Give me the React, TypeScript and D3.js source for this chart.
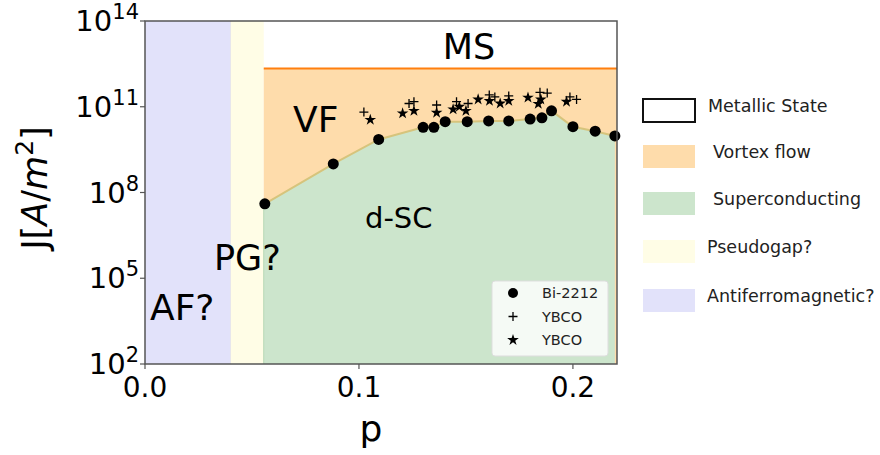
import React from 'react'
import * as d3 from 'd3'

// doping p and current density J [A/m^2]
const bi2212P = [0.056, 0.088, 0.1092, 0.130, 0.135, 0.1403, 0.1506, 0.1606, 0.170, 0.180, 0.1855, 0.190, 0.200, 0.2104, 0.2196]
const bi2212J = [4.0e7, 1.0e9, 7.2e9, 1.9e10, 1.9e10, 3.0e10, 3.0e10, 3.2e10, 3.2e10, 3.7e10, 4.1e10, 7.2e10, 2.0e10, 1.4e10, 9.5e9]

const ybcoPlusP = [0.1023, 0.1234, 0.1257, 0.1363, 0.1456, 0.151, 0.1609, 0.1635, 0.170, 0.1846, 0.188, 0.1986, 0.2017]
const ybcoPlusJ = [6.5e10, 1.3e11, 1.5e11, 1.15e11, 1.5e11, 1.3e11, 2.6e11, 2.2e11, 2.4e11, 3.2e11, 3.0e11, 2.2e11, 1.8e11]

const ybcoStarP = [0.1053, 0.1204, 0.1257, 0.1363, 0.144, 0.1469, 0.150, 0.1557, 0.161, 0.166, 0.170, 0.179, 0.1838, 0.185, 0.197]
const ybcoStarJ = [3.5e10, 5.9e10, 7.2e10, 6.2e10, 8.1e10, 1.0e11, 7.2e10, 1.8e11, 1.6e11, 1.3e11, 1.6e11, 2.1e11, 1.26e11, 1.8e11, 1.5e11]

// phase boundaries
const afEnd = 0.040
const pgEnd = 0.0555
const pMax = 0.2206
const metallicJ = 2.2e12

const xTicks = [0, 0.1, 0.2]
const yTickExps = [2, 5, 8, 11, 14]

const phaseLegend = ['Metallic State', 'Vortex flow', 'Superconducting', 'Pseudogap?', 'Antiferromagnetic?']
const markerLegend = ['Bi-2212', 'YBCO', 'YBCO']

const FONT = 'DejaVu Sans, sans-serif'

function App() {
  const width = 880
  const height = 455
  const margin = { top: 21, left: 145, right: 263, bottom: 91 }
  const x0 = margin.left
  const x1 = width - margin.right
  const y0 = height - margin.bottom
  const y1 = margin.top

  const x = d3.scaleLinear().domain([0, pMax]).range([x0, x1])
  const y = d3.scaleLog().domain([1e2, 1e14]).range([y0, y1])

  const bi = bi2212P.map((p, i) => ({ p, j: bi2212J[i] }))
  const plus = ybcoPlusP.map((p, i) => ({ p, j: ybcoPlusJ[i] }))
  const star = ybcoStarP.map((p, i) => ({ p, j: ybcoStarJ[i] }))

  // green region: below the Bi-2212 curve
  const scArea = d3.area<{ p: number; j: number }>()
    .x(d => x(d.p))
    .y0(y0)
    .y1(d => y(d.j))
  const curve = d3.line<{ p: number; j: number }>().x(d => x(d.p)).y(d => y(d.j))

  const starPath = d3.symbol(d3.symbolStar, 42)()
  const plusPath = 'M-4.5,0H4.5M0,-4.5V4.5'

  const fillColors = ['#ffffff', '#fedcab', '#cce5cc', '#fffde6', '#e2e2fa']

  return (
    <svg width={width} height={height} style={{ position: 'absolute', left: 0, top: 0, background: '#fff' }} fontFamily={FONT}>
      {/* phase regions */}
      <rect x={x(0)} y={y1} width={x(afEnd) - x(0)} height={y0 - y1} fill="#e2e2fa" />
      <line x1={x(afEnd)} x2={x(afEnd)} y1={y1} y2={y0} stroke="#d4d4ee" strokeWidth={1} />
      <rect x={x(afEnd)} y={y1} width={x(pgEnd) - x(afEnd)} height={y0 - y1} fill="#fffde6" />
      <rect x={x(pgEnd)} y={y(metallicJ)} width={x1 - x(pgEnd)} height={y0 - y(metallicJ)} fill="#fedcab" />
      <path d={scArea([{ p: pgEnd, j: bi[0].j }, ...bi]) || ''} fill="#cce5cc" />
      <line x1={x(pgEnd)} x2={x(pgEnd)} y1={y(bi[0].j)} y2={y0} stroke="#b7d9b7" strokeWidth={1} />
      <path d={curve(bi) || ''} fill="none" stroke="#d6c47c" strokeWidth={2} />
      <line x1={x(pgEnd)} x2={x1} y1={y(metallicJ)} y2={y(metallicJ)} stroke="#ff7f0e" strokeWidth={2} />

      {/* region labels */}
      <text x={469} y={59} fontSize={35} textAnchor="middle">MS</text>
      <text x={293} y={132} fontSize={36}>VF</text>
      <text x={365} y={228} fontSize={29}>d-SC</text>
      <text x={214} y={270} fontSize={35}>PG?</text>
      <text x={150} y={320} fontSize={36}>AF?</text>

      {/* data */}
      {plus.map((d, i) => (
        <path key={`pl${i}`} d={plusPath} transform={`translate(${x(d.p)},${y(d.j)})`} stroke="#000" strokeWidth={1.3} fill="none" />
      ))}
      {star.map((d, i) => (
        <path key={`st${i}`} d={starPath || ''} transform={`translate(${x(d.p)},${y(d.j)})`} fill="#000" />
      ))}
      {bi.map((d, i) => (
        <circle key={`bi${i}`} cx={x(d.p)} cy={y(d.j)} r={5.5} fill="#000" />
      ))}

      {/* inner legend */}
      <rect x={492} y={281} width={116} height={75} rx={3} fill="#fff" fillOpacity={0.8} stroke="#dddddd" />
      {markerLegend.map((label, i) => {
        const ly = 293 + i * 23.5
        return (
          <g key={`ml${i}`}>
            {i === 0 && <circle cx={513} cy={ly} r={5} fill="#000" />}
            {i === 1 && <path d={plusPath} transform={`translate(513,${ly})`} stroke="#000" strokeWidth={1.3} />}
            {i === 2 && <path d={starPath || ''} transform={`translate(513,${ly})`} fill="#000" />}
            <text x={542} y={ly} dy="0.36em" fontSize={14.5} fill="#222">{label}</text>
          </g>
        )
      })}

      {/* axes frame */}
      <rect x={x0} y={y1} width={x1 - x0} height={y0 - y1} fill="none" stroke="#555" strokeWidth={1.5} />
      {xTicks.map(t => (
        <g key={`xt${t}`} transform={`translate(${x(t)},${y0})`}>
          <line y2={5} stroke="#555" strokeWidth={1.2} />
          <text y={33} fontSize={28} textAnchor="middle">{t.toFixed(1)}</text>
        </g>
      ))}
      {yTickExps.map(e => (
        <g key={`yt${e}`} transform={`translate(${x0},${y(Math.pow(10, e))})`}>
          <line x2={-5} stroke="#555" strokeWidth={1.2} />
          <text x={-6} y={10} fontSize={29} textAnchor="end">
            10<tspan fontSize={21} dy={-12}>{e}</tspan>
          </text>
        </g>
      ))}
      <text x={(x0 + x1) / 2 - 10} y={441} fontSize={36} textAnchor="middle">p</text>
      <text transform={`translate(47,188) rotate(-90)`} fontSize={35} textAnchor="middle">
        J[<tspan fontStyle="italic">A</tspan>/<tspan fontStyle="italic">m</tspan><tspan fontSize={25} dy={-14}>2</tspan><tspan dy={14}>]</tspan>
      </text>

      {/* phase legend */}
      {phaseLegend.map((label, i) => {
        const cy = [110, 156, 203, 251, 300][i]
        const tx = [708, 713, 713, 707, 707][i]
        return (
          <g key={`pl${i}`}>
            <rect x={643} y={cy - 11} width={52} height={23} fill={fillColors[i]} stroke={i === 0 ? '#111' : 'none'} strokeWidth={2} />
            <text x={tx} y={cy - 4} dy="0.36em" fontSize={17.5} fill="#222">{label}</text>
          </g>
        )
      })}
    </svg>
  )
}

export default App
